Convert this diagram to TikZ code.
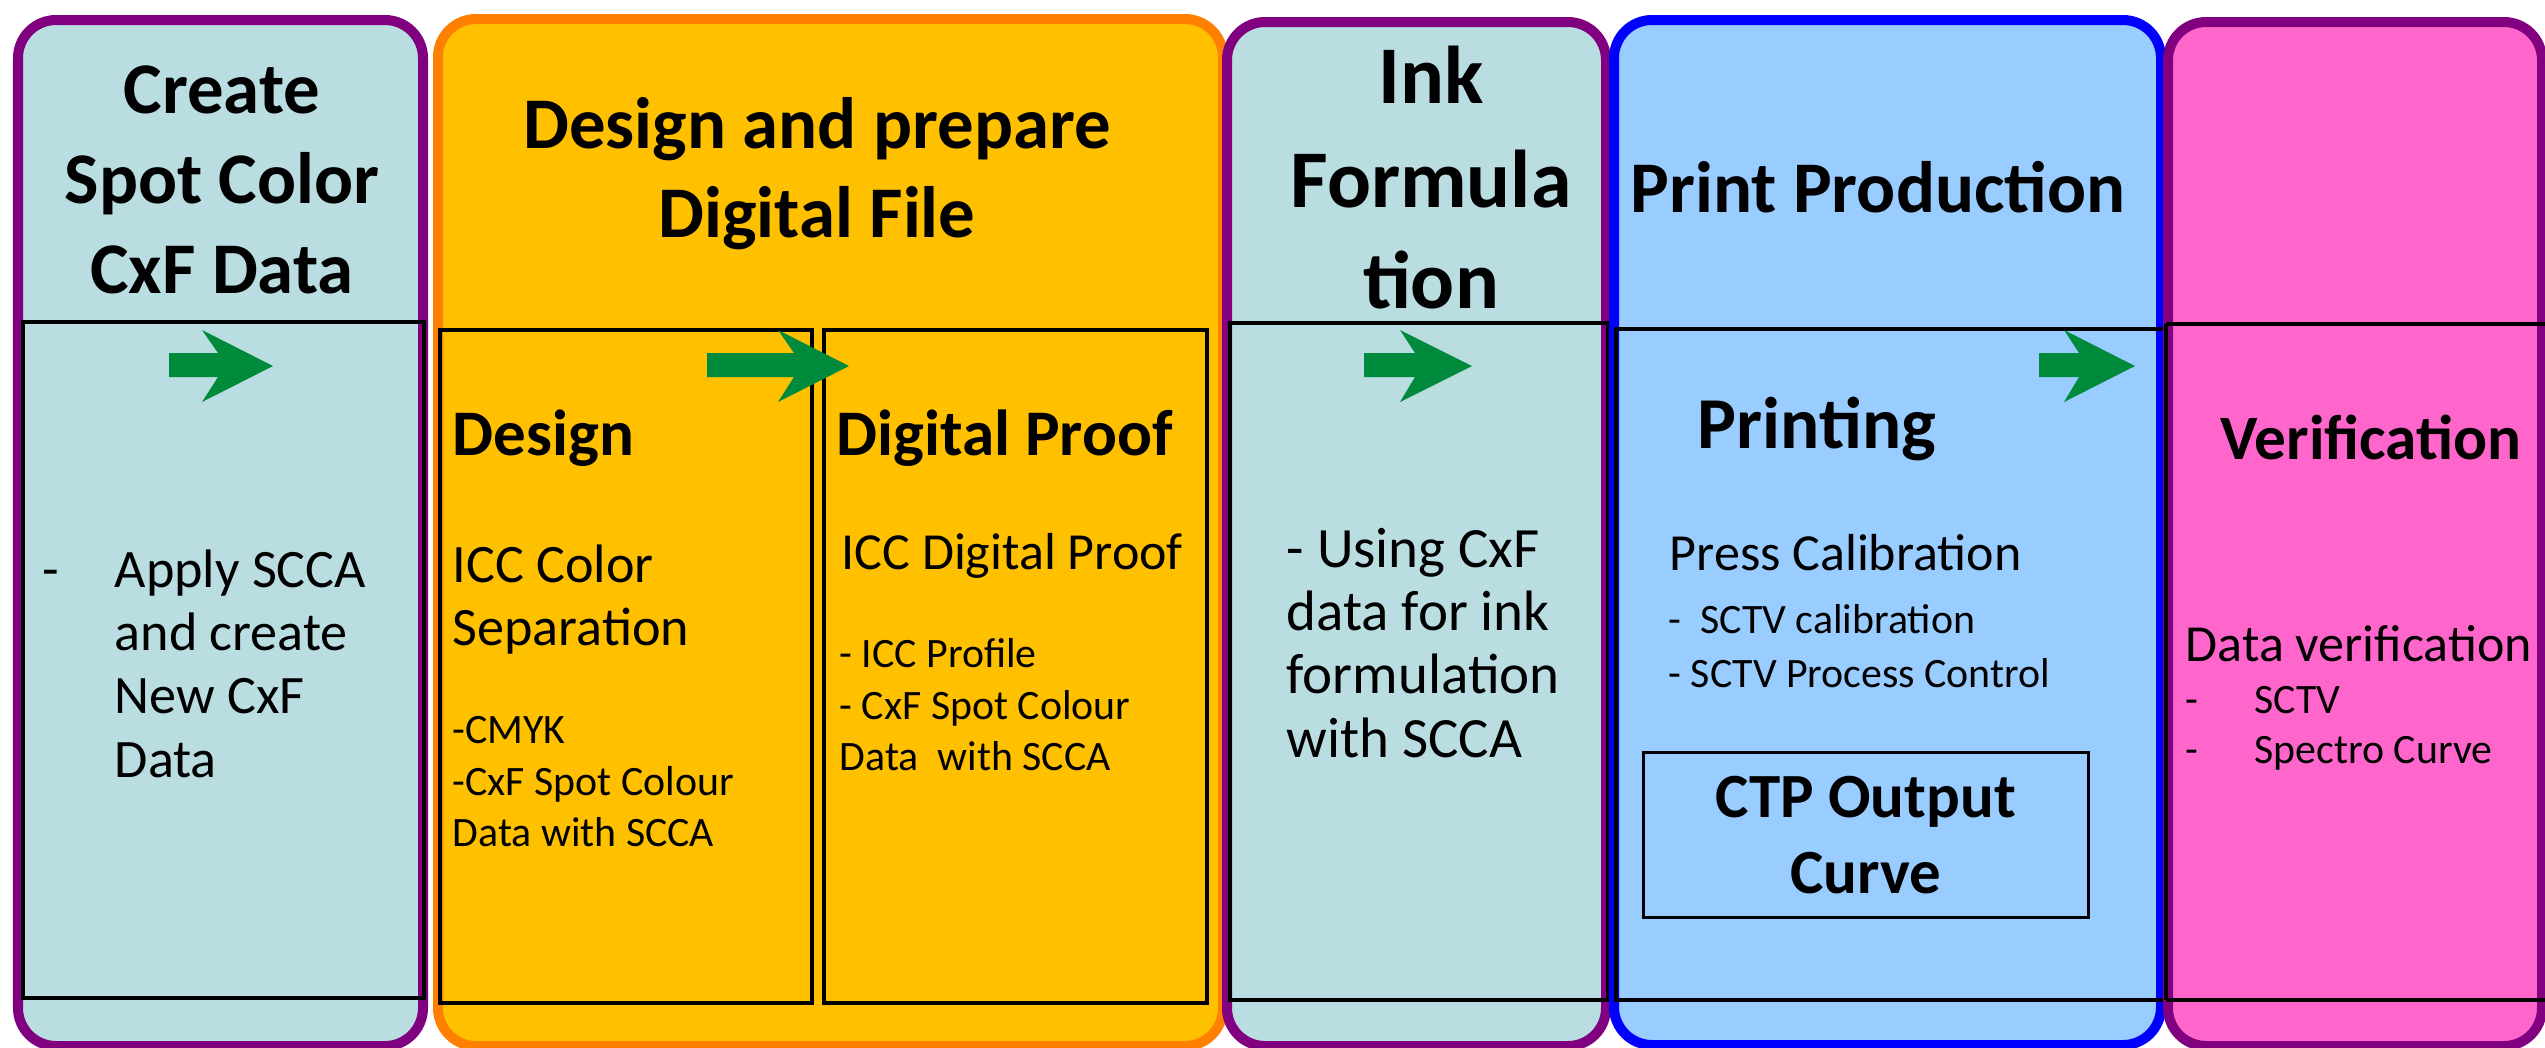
\documentclass[tikz,border=0pt]{standalone}
\usepackage{fontspec}
\newfontfamily\calf{Carlito}
\definecolor{tealf}{HTML}{BADDE2}
\definecolor{purp}{HTML}{800080}
\definecolor{goldf}{HTML}{FFC000}
\definecolor{orng}{HTML}{FF8000}
\definecolor{skyf}{HTML}{99CCFF}
\definecolor{bluel}{HTML}{0000FF}
\definecolor{pinkf}{HTML}{FF66CC}
\definecolor{agreen}{HTML}{008A3C}
\begin{document}
\begin{tikzpicture}[x=0.01cm,y=-0.01cm,
  stage/.style={rounded corners=0.38cm, line width=0.1cm},
  inbox/.style={draw=black, line width=0.045cm},
  garrow/.style={fill=agreen},
  txt/.style={inner sep=0pt, anchor=base west},
  ctxt/.style={inner sep=0pt, anchor=base},
  ttl/.style={ctxt, font=\calf\bfseries\fontsize{20.7}{25}\selectfont},
  ttlbig/.style={ctxt, font=\calf\bfseries\fontsize{23.3}{28}\selectfont},
  body/.style={txt, font=\calf\fontsize{15.4}{18}\selectfont},
  bodyb/.style={txt, font=\calf\fontsize{16.2}{19}\selectfont},
  mid/.style={txt, font=\calf\fontsize{14.8}{17}\selectfont},
  small/.style={txt, font=\calf\fontsize{11.9}{14}\selectfont},
  sub/.style={txt, font=\calf\bfseries\fontsize{18.5}{22}\selectfont},
  subp/.style={txt, font=\calf\bfseries\fontsize{20.8}{25}\selectfont},
  subc/.style={ctxt, font=\calf\bfseries\fontsize{17.9}{21}\selectfont},
  subv/.style={txt, font=\calf\bfseries\fontsize{18}{21}\selectfont}
]
\useasboundingbox (0,0) rectangle (2545,1047);
\fill[white] (0,0) rectangle (2545,1047);
\clip (0,0) rectangle (2545,1047);

% ---------- Stage 1 ----------
\draw[stage, draw=purp, fill=tealf] (18,20) rectangle (423,1046);
\draw[inbox] (23,322) rectangle (424,998);
\fill[garrow] (169,353) -- (218,353) -- (202,330) -- (273,366) -- (202,402) -- (218,377) -- (169,377) -- cycle;
\node[ttl] (t1a) at (222,113) {Create};
\node[ttl] (t1b) at (222,203) {Spot Color};
\node[ttl] (t1c) at (222,293) {CxF Data};
\node[body] (b1d) at (42,587) {-};
\node[body] (b1a) at (114,587) {Apply SCCA};
\node[body] (b1b) at (114,650) {and create};
\node[body] (b1c) at (114,713) {New CxF};
\node[body] (b1e) at (114,777) {Data};

% ---------- Stage 2 ----------
\draw[stage, draw=orng, fill=goldf] (438,19) rectangle (1223,1046);
\draw[inbox] (440,330) rectangle (812,1003);
\draw[inbox] (824,330) rectangle (1207,1003);
\fill[garrow] (707,353) -- (794,353) -- (778,330) -- (849,366) -- (778,402) -- (794,377) -- (707,377) -- cycle;
\node[ttl] (t2a) at (817,148) {Design and prepare};
\node[ttl] (t2b) at (817,237) {Digital File};
\node[sub] (s2a) at (452,455) {Design};
\node[body] (b2a) at (452,582) {ICC Color};
\node[body] (b2b) at (452,645) {Separation};
\node[small] (c2a) at (452,743) {-CMYK};
\node[small] (c2b) at (452,795) {-CxF Spot Colour};
\node[small] (c2c) at (452,846) {Data with SCCA};
\node[sub] (s2b) at (836,455) {Digital Proof};
\node[mid] (b2c) at (841,569) {ICC Digital Proof};
\node[small] (c2d) at (839,667) {- ICC Profile};
\node[small] (c2e) at (839,719) {- CxF Spot Colour};
\node[small] (c2f) at (839,770) {Data\ \ with SCCA};

% ---------- Stage 3 ----------
\draw[stage, draw=purp, fill=tealf] (1227,22) rectangle (1606,1046);
\draw[inbox] (1230,323) rectangle (1608,1000);
\fill[garrow] (1364,353) -- (1415,353) -- (1400,330) -- (1472,366) -- (1400,402) -- (1415,377) -- (1364,377) -- cycle;
\node[ttlbig] (t3a) at (1431,103) {Ink};
\node[ttlbig] (t3b) at (1431,207) {Formula};
\node[ttlbig] (t3c) at (1431,308) {tion};
\node[bodyb] (b3a) at (1286,567) {- Using CxF};
\node[bodyb] (b3b) at (1286,630) {data for ink};
\node[bodyb] (b3c) at (1286,693) {formulation};
\node[bodyb] (b3d) at (1286,757) {with SCCA};

% ---------- Stage 4 ----------
\draw[stage, draw=bluel, fill=skyf] (1614,20) rectangle (2161,1045);
\draw[inbox] (1616,329) rectangle (2166,1000);
\fill[garrow] (2039,353) -- (2079,353) -- (2064,330) -- (2135,366) -- (2064,402) -- (2079,377) -- (2039,377) -- cycle;
\node[ttl] (t4a) at (1878,212) {Print Production};
\node[subp] (s4a) at (1697,448) {Printing};
\node[mid] (b4a) at (1669,570) {Press Calibration};
\node[small] (c4a) at (1668,633) {-\ \ SCTV calibration};
\node[small] (c4b) at (1668,687) {- SCTV Process Control};
\draw[black, line width=0.03cm] (1643,752) rectangle (2088,917);
\node[subc] (s4b) at (1866,817) {CTP Output};
\node[subc] (s4c) at (1866,893) {Curve};

% ---------- Stage 5 ----------
\draw[stage, draw=purp, fill=pinkf] (2168,22) rectangle (2542,1046);
\draw[inbox] (2166,324) -- (2600,324);
\draw[inbox] (2166,1000) -- (2600,1000);
\draw[inbox] (2166,324) -- (2166,1000);
\node[subv] (s5a) at (2220,459) {Verification};
\node[mid] (b5a) at (2185,661) {Data verification};
\node[small] (c5a) at (2185,713) {-};
\node[small] (c5b) at (2254,713) {SCTV};
\node[small] (c5c) at (2185,763) {-};
\node[small] (c5d) at (2254,763) {Spectro Curve};
\end{tikzpicture}
\end{document}
